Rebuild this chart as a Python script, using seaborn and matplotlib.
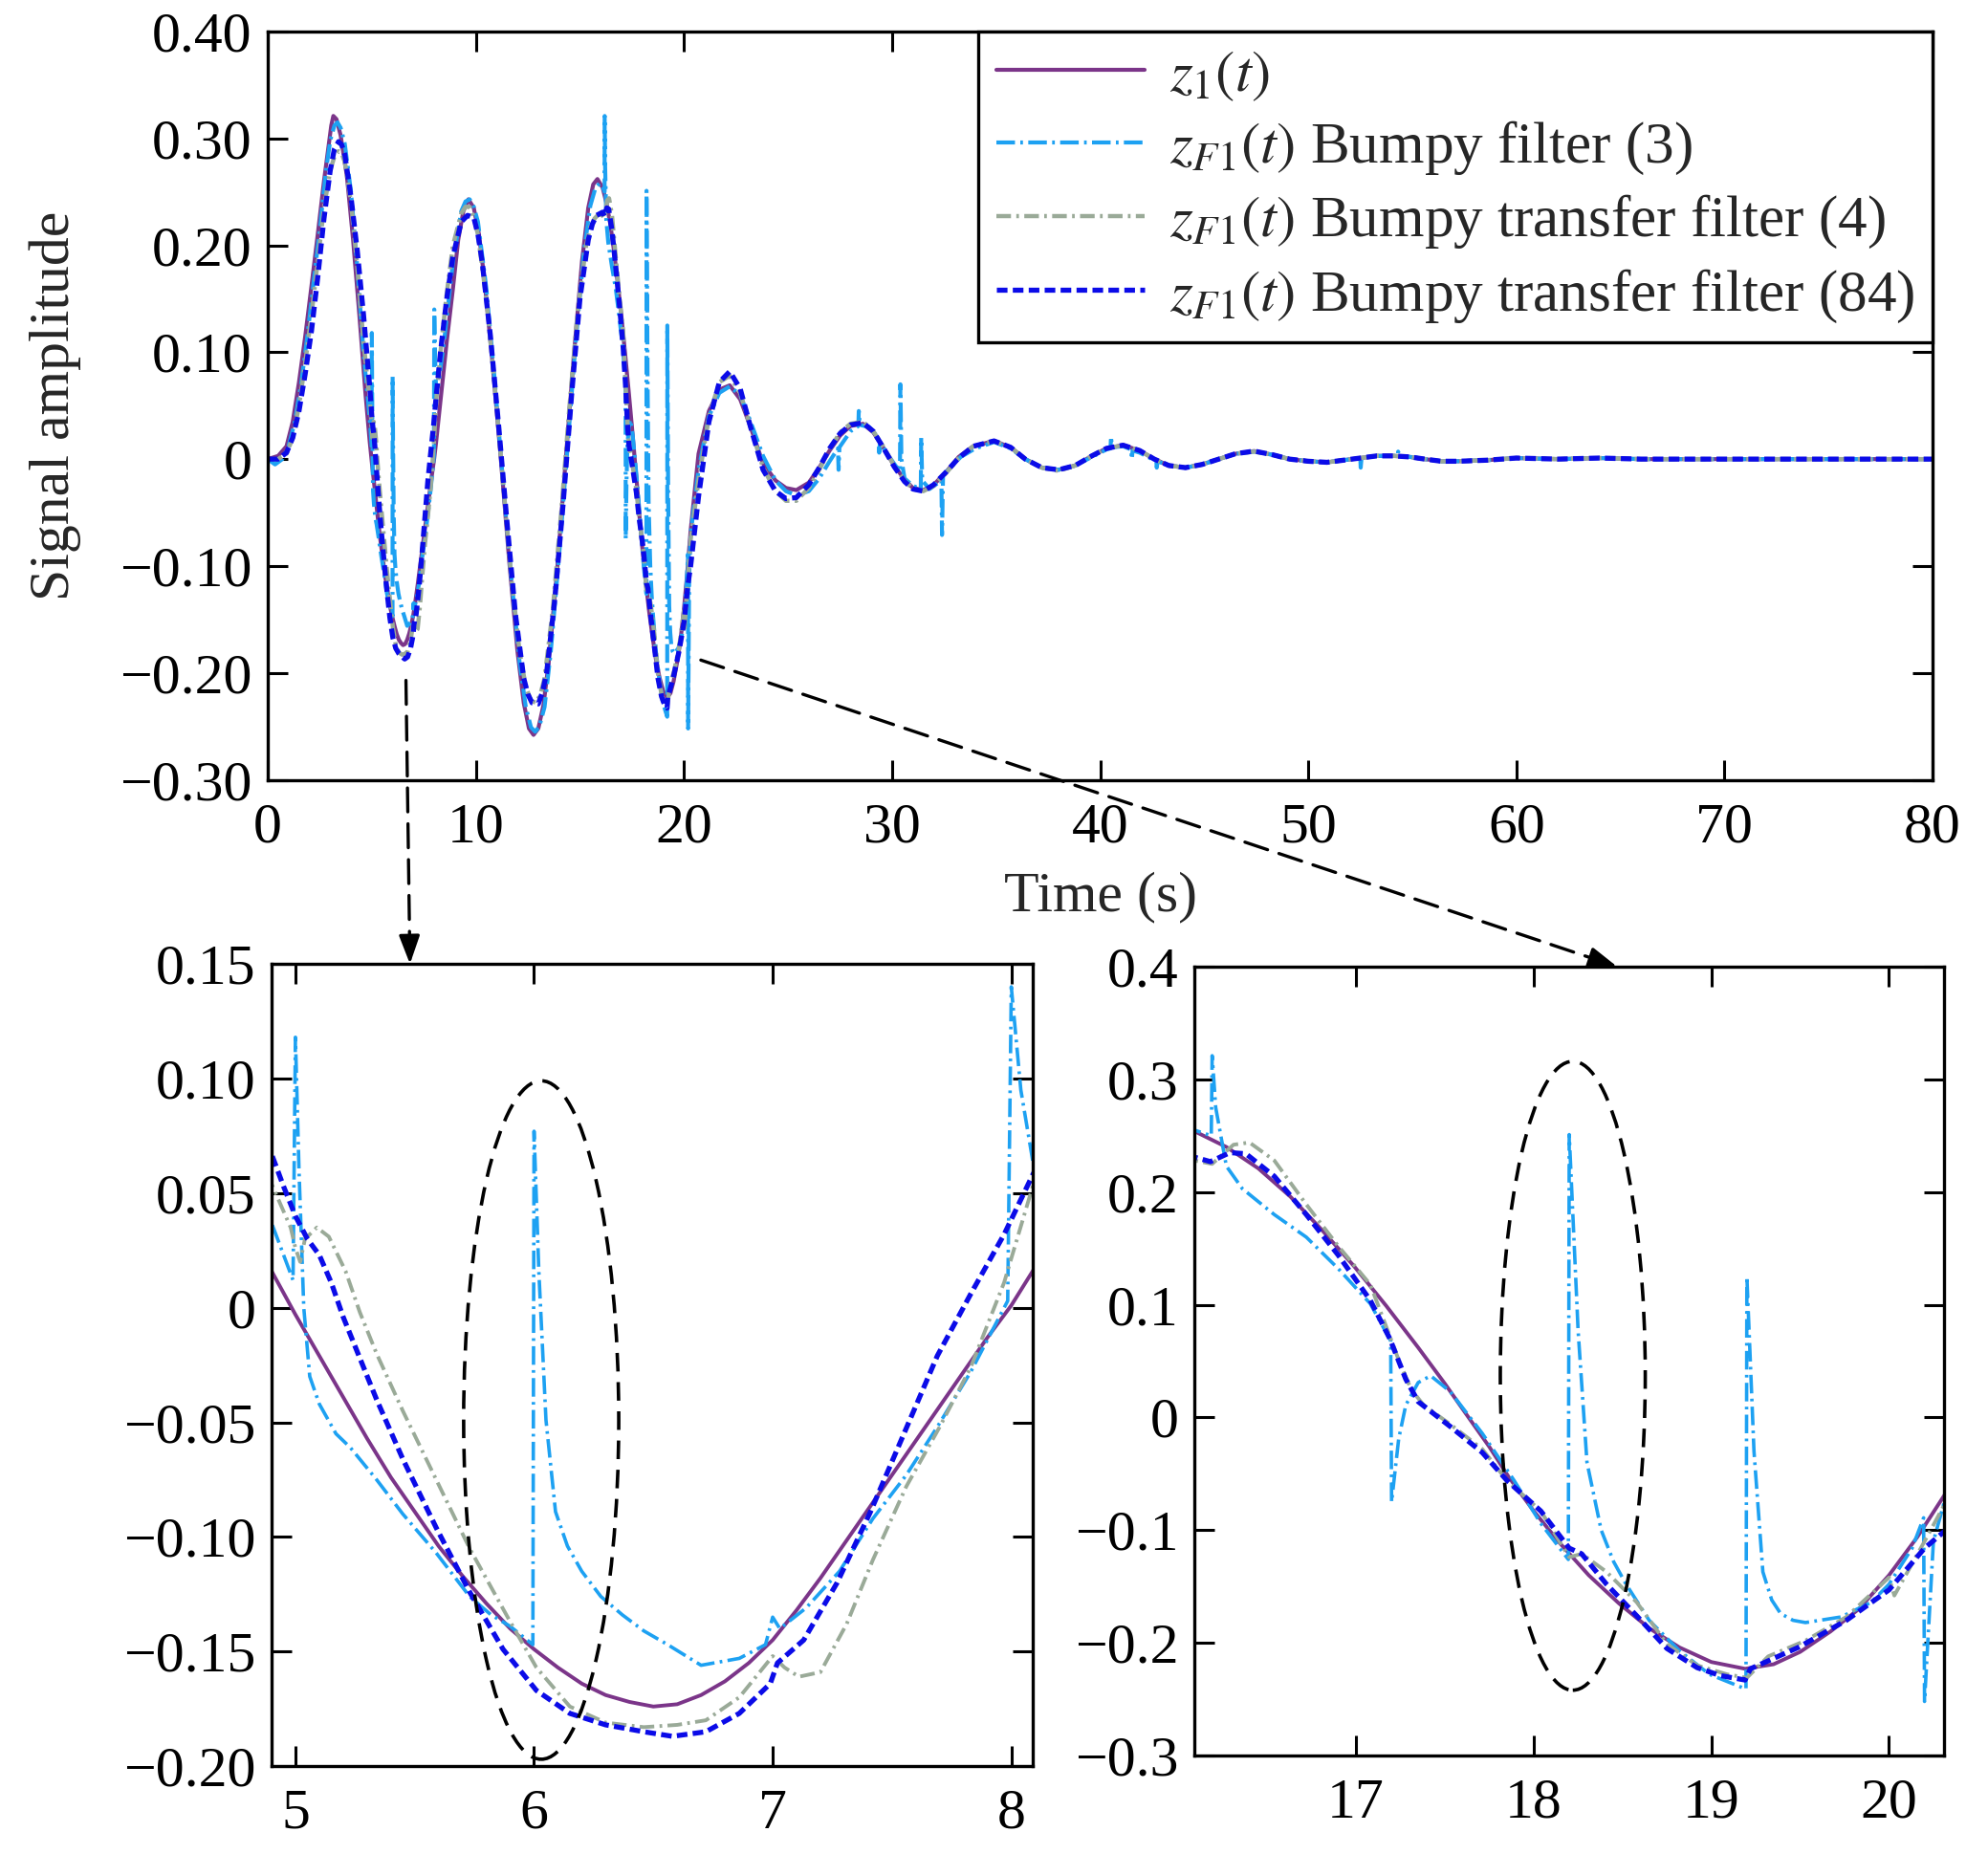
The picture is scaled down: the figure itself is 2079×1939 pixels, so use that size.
import matplotlib
matplotlib.use("Agg")
import matplotlib.pyplot as plt
import seaborn as sns
from matplotlib.patches import Ellipse, ConnectionPatch

# signal samples: (time s, amplitude)
z1_pts = [(0, 0), (0.5, 0.003), (0.9, 0.012), (1.2, 0.035), (1.5, 0.072), (1.8, 0.115), (2.1, 0.162),
          (2.4, 0.21), (2.7, 0.26), (2.9, 0.29), (3.05, 0.312), (3.15, 0.321), (3.3, 0.318), (3.5, 0.303),
          (3.8, 0.265), (4.1, 0.205), (4.4, 0.135), (4.7, 0.06), (4.9, 0.016), (5.0, -0.003),
          (5.1, -0.021), (5.2, -0.039), (5.3, -0.057), (5.4, -0.074), (5.5, -0.089), (5.6, -0.104),
          (5.7, -0.117), (5.8, -0.129), (5.9, -0.14), (6.0, -0.149), (6.1, -0.157), (6.2, -0.164),
          (6.3, -0.169), (6.4, -0.172), (6.5, -0.174), (6.6, -0.173), (6.7, -0.169), (6.8, -0.163),
          (6.9, -0.155), (7.0, -0.145), (7.1, -0.132), (7.2, -0.118), (7.3, -0.103), (7.4, -0.088),
          (7.5, -0.073), (7.6, -0.058), (7.7, -0.043), (7.8, -0.028), (7.9, -0.013), (8.0, 0.001),
          (8.09, 0.016), (8.3, 0.055), (8.6, 0.11), (8.9, 0.16), (9.15, 0.205), (9.4, 0.232),
          (9.64, 0.243), (9.9, 0.235), (10.15, 0.21), (10.4, 0.17), (10.8, 0.09), (11.2, 0.0),
          (11.6, -0.095), (12.0, -0.18), (12.3, -0.228), (12.55, -0.252), (12.77, -0.258), (13.0, -0.252),
          (13.25, -0.23), (13.5, -0.19), (13.9, -0.105), (14.3, -0.005), (14.7, 0.095), (15.1, 0.185),
          (15.4, 0.235), (15.64, 0.257), (15.84, 0.262), (16.09, 0.254), (16.27, 0.24), (16.45, 0.221),
          (16.63, 0.196), (16.81, 0.166), (16.99, 0.134), (17.17, 0.099), (17.35, 0.062), (17.5, 0.03),
          (17.62, 0.003), (17.75, -0.026), (17.86, -0.053), (18.0, -0.083), (18.15, -0.112),
          (18.31, -0.14), (18.48, -0.165), (18.65, -0.187), (18.82, -0.204), (19.0, -0.217),
          (19.19, -0.223), (19.35, -0.219), (19.5, -0.208), (19.67, -0.19), (19.83, -0.17), (20.0, -0.14),
          (20.16, -0.106), (20.32, -0.067), (20.7, 0.005), (21.2, 0.045), (21.7, 0.065), (22.2, 0.069),
          (22.7, 0.056), (23.2, 0.03), (23.8, -0.004), (24.4, -0.02), (24.9, -0.027), (25.4, -0.029),
          (26.0, -0.022), (26.5, -0.008), (27.0, 0.008), (27.5, 0.022), (28.0, 0.031), (28.6, 0.033),
          (29.1, 0.025), (29.6, 0.01), (30.1, -0.006), (30.6, -0.019), (31.0, -0.027), (31.5, -0.029),
          (32.0, -0.024), (32.6, -0.012), (33.2, 0.002), (33.9, 0.012), (34.9, 0.017), (35.7, 0.011),
          (36.4, 0.0), (37.2, -0.008), (38.0, -0.01), (38.8, -0.006), (39.6, 0.003), (40.3, 0.01),
          (41.1, 0.013), (41.9, 0.008), (42.6, 0.0), (43.3, -0.006), (44.1, -0.008), (44.9, -0.005),
          (45.7, 0.0), (46.5, 0.005), (47.4, 0.0075), (48.3, 0.004), (49.1, 0.0), (50.0, -0.002),
          (50.9, -0.003), (51.7, -0.001), (52.5, 0.001), (53.3, 0.003), (54.1, 0.003), (54.9, 0.002),
          (55.6, 0.0), (56.4, -0.002), (57.2, -0.002), (58.6, -0.001), (60.0, 0.001), (62.0, 0.0),
          (64.0, 0.001), (66.0, 0.0), (70.0, 0.0), (75.0, 0.0), (80.0, 0.0)]

f3_pts = [(0, 0), (0.35, -0.005), (0.7, 0.0), (1.0, 0.012), (1.3, 0.035), (1.6, 0.07), (1.9, 0.115),
          (2.2, 0.165), (2.5, 0.215), (2.8, 0.27), (3.0, 0.298), (3.2, 0.312), (3.35, 0.315), (3.5, 0.31),
          (3.7, 0.295), (4.0, 0.25), (4.3, 0.18), (4.6, 0.1), (4.9, 0.037), (4.99, 0.012), (5.0, 0.118),
          (5.015, 0.06), (5.035, 0.0), (5.06, -0.03), (5.1, -0.042), (5.17, -0.055), (5.23, -0.061),
          (5.34, -0.075), (5.45, -0.09), (5.59, -0.107), (5.73, -0.126), (5.82, -0.134), (5.9, -0.139),
          (5.995, -0.147), (6.0, 0.077), (6.02, 0.016), (6.05, -0.049), (6.09, -0.089), (6.14, -0.104),
          (6.2, -0.115), (6.28, -0.126), (6.37, -0.134), (6.46, -0.141), (6.56, -0.147), (6.7, -0.156),
          (6.86, -0.153), (6.97, -0.147), (7.0, -0.135), (7.03, -0.14), (7.14, -0.131), (7.28, -0.115),
          (7.42, -0.092), (7.56, -0.073), (7.69, -0.052), (7.83, -0.028), (7.985, 0.003), (8.0, 0.14),
          (8.04, 0.095), (8.09, 0.064), (8.2, 0.07), (8.5, 0.115), (8.9, 0.185), (9.3, 0.232),
          (9.5, 0.241), (9.7, 0.243), (9.9, 0.236), (10.1, 0.222), (10.5, 0.16), (10.9, 0.075),
          (11.3, -0.02), (11.7, -0.11), (12.1, -0.19), (12.4, -0.232), (12.65, -0.251), (12.85, -0.255),
          (13.05, -0.25), (13.3, -0.232), (13.6, -0.18), (14.0, -0.09), (14.4, 0.01), (14.8, 0.11),
          (15.2, 0.195), (15.5, 0.237), (15.75, 0.254), (15.95, 0.258), (16.09, 0.255), (16.185, 0.25),
          (16.19, 0.321), (16.21, 0.275), (16.27, 0.223), (16.36, 0.203), (16.54, 0.18), (16.72, 0.16),
          (16.9, 0.132), (17.08, 0.101), (17.195, 0.068), (17.2, -0.075), (17.24, -0.019), (17.28, 0.011),
          (17.35, 0.031), (17.42, 0.037), (17.53, 0.023), (17.71, -0.014), (17.89, -0.056),
          (18.04, -0.094), (18.195, -0.126), (18.2, 0.251), (18.25, 0.077), (18.3, -0.04), (18.38, -0.1),
          (18.45, -0.128), (18.52, -0.148), (18.65, -0.18), (18.82, -0.207), (18.99, -0.228),
          (19.195, -0.241), (19.2, 0.125), (19.24, -0.03), (19.29, -0.137), (19.34, -0.162),
          (19.39, -0.174), (19.46, -0.18), (19.53, -0.182), (19.73, -0.177), (19.9, -0.164),
          (20.0, -0.148), (20.13, -0.116), (20.195, -0.089), (20.2, -0.252), (20.25, -0.11),
          (20.32, -0.07), (20.7, -0.01), (21.2, 0.04), (21.7, 0.062), (22.2, 0.068), (22.7, 0.06),
          (23.2, 0.035), (23.8, 0.003), (24.4, -0.02), (24.9, -0.03), (25.4, -0.034), (26.0, -0.03),
          (26.5, -0.018), (27.0, -0.002), (27.4, 0.01), (27.43, -0.01), (27.47, 0.011), (28.0, 0.026),
          (28.38, 0.031), (28.4, 0.045), (28.45, 0.032), (28.9, 0.03), (29.35, 0.02), (29.38, 0.006),
          (29.42, 0.016), (29.8, 0.004), (30.38, -0.012), (30.4, 0.07), (30.45, 0.0), (30.6, -0.018),
          (31.0, -0.025), (31.38, -0.028), (31.4, 0.02), (31.45, -0.02), (31.8, -0.028), (32.37, -0.02),
          (32.4, -0.071), (32.45, -0.015), (32.8, -0.008), (33.3, 0.002), (34.0, 0.01), (34.9, 0.016),
          (35.7, 0.01), (36.4, 0.0), (37.2, -0.008), (38.0, -0.01), (38.8, -0.006), (39.6, 0.002),
          (40.3, 0.009), (40.5, 0.01), (40.52, 0.021), (40.57, 0.011), (41.1, 0.012), (41.5, 0.009),
          (41.52, 0.0), (41.56, 0.008), (41.9, 0.006), (42.6, -0.001), (42.7, -0.002), (42.72, -0.008),
          (42.76, -0.002), (43.3, -0.006), (44.1, -0.008), (44.9, -0.005), (45.7, 0.0), (46.5, 0.005),
          (47.4, 0.007), (48.3, 0.004), (49.1, 0.0), (50.0, -0.002), (50.9, -0.003), (51.7, -0.001),
          (52.5, 0.001), (52.52, -0.008), (52.56, 0.001), (53.3, 0.003), (54.3, 0.003), (54.32, 0.007),
          (54.36, 0.003), (54.9, 0.002), (55.6, 0.0), (56.4, -0.002), (57.2, -0.002), (58.6, -0.001),
          (60.0, 0.001), (62.0, 0.0), (64.0, 0.001), (66.0, 0.0), (70.0, 0.0), (75.0, 0.0), (80.0, 0.0)]

f4_pts = [(0, 0), (0.5, 0.0), (0.9, 0.005), (1.2, 0.02), (1.5, 0.05), (1.8, 0.09), (2.1, 0.135),
          (2.4, 0.185), (2.7, 0.235), (3.0, 0.27), (3.2, 0.283), (3.4, 0.288), (3.55, 0.286), (3.7, 0.278),
          (4.0, 0.24), (4.3, 0.18), (4.6, 0.11), (4.9, 0.054), (4.98, 0.035), (5.0, 0.026), (5.02, 0.02),
          (5.04, 0.03), (5.09, 0.035), (5.14, 0.031), (5.21, 0.016), (5.27, -0.002), (5.34, -0.02),
          (5.45, -0.045), (5.59, -0.075), (5.73, -0.105), (5.9, -0.137), (6.01, -0.157), (6.15, -0.174),
          (6.3, -0.181), (6.46, -0.183), (6.6, -0.182), (6.72, -0.18), (6.86, -0.17), (7.0, -0.152),
          (7.05, -0.157), (7.11, -0.161), (7.2, -0.159), (7.31, -0.138), (7.42, -0.11), (7.56, -0.078),
          (7.7, -0.052), (7.83, -0.026), (7.97, 0.011), (8.09, 0.053), (8.3, 0.1), (8.6, 0.155),
          (8.9, 0.2), (9.3, 0.23), (9.5, 0.236), (9.7, 0.236), (9.9, 0.226), (10.1, 0.21), (10.5, 0.15),
          (10.9, 0.07), (11.3, -0.02), (11.7, -0.11), (12.1, -0.18), (12.4, -0.213), (12.65, -0.226),
          (12.9, -0.228), (13.1, -0.22), (13.3, -0.205), (13.7, -0.14), (14.1, -0.05), (14.5, 0.05),
          (14.9, 0.14), (15.3, 0.2), (15.5, 0.217), (15.7, 0.225), (15.9, 0.229), (16.09, 0.228),
          (16.19, 0.225), (16.31, 0.242), (16.4, 0.244), (16.54, 0.228), (16.72, 0.189), (16.9, 0.152),
          (17.08, 0.118), (17.2, 0.068), (17.24, 0.051), (17.31, 0.025), (17.38, 0.011), (17.53, -0.006),
          (17.71, -0.028), (17.85, -0.056), (18.04, -0.083), (18.2, -0.124), (18.27, -0.121),
          (18.41, -0.137), (18.58, -0.164), (18.75, -0.201), (18.92, -0.22), (19.09, -0.228),
          (19.2, -0.231), (19.32, -0.212), (19.53, -0.198), (19.76, -0.177), (20.0, -0.142),
          (20.03, -0.158), (20.2, -0.11), (20.32, -0.075), (20.7, -0.02), (21.2, 0.04), (21.7, 0.072),
          (22.2, 0.078), (22.7, 0.062), (23.2, 0.03), (23.8, -0.008), (24.4, -0.03), (24.9, -0.039),
          (25.4, -0.039), (26.0, -0.027), (26.5, -0.01), (27.0, 0.009), (27.5, 0.025), (28.0, 0.033),
          (28.6, 0.035), (29.1, 0.026), (29.6, 0.011), (30.1, -0.006), (30.6, -0.02), (31.0, -0.028),
          (31.5, -0.03), (32.0, -0.025), (32.6, -0.013), (33.2, 0.001), (33.9, 0.012), (34.9, 0.017),
          (35.7, 0.011), (36.4, 0.0), (37.2, -0.008), (38.0, -0.011), (38.8, -0.006), (39.6, 0.003),
          (40.3, 0.01), (41.1, 0.013), (41.9, 0.008), (42.6, 0.0), (43.3, -0.006), (44.1, -0.008),
          (44.9, -0.005), (45.7, 0.0), (46.5, 0.005), (47.4, 0.007), (48.3, 0.004), (49.1, 0.0),
          (50.0, -0.002), (50.9, -0.003), (51.7, -0.001), (52.5, 0.001), (53.3, 0.003), (54.1, 0.003),
          (54.9, 0.002), (55.6, 0.0), (56.4, -0.002), (57.2, -0.002), (58.6, -0.001), (60.0, 0.001),
          (62.0, 0.0), (64.0, 0.001), (66.0, 0.0), (70.0, 0.0), (75.0, 0.0), (80.0, 0.0)]

f84_pts = [(0, 0), (0.5, 0.0), (0.9, 0.006), (1.2, 0.02), (1.5, 0.045), (1.8, 0.08), (2.1, 0.12),
           (2.4, 0.17), (2.7, 0.225), (3.0, 0.27), (3.2, 0.29), (3.4, 0.297), (3.55, 0.294), (3.7, 0.285),
           (4.0, 0.245), (4.3, 0.195), (4.6, 0.135), (4.9, 0.067), (4.95, 0.053), (5.0, 0.04),
           (5.05, 0.03), (5.1, 0.023), (5.15, 0.011), (5.2, -0.004), (5.27, -0.022), (5.34, -0.04),
           (5.45, -0.066), (5.59, -0.096), (5.73, -0.124), (5.87, -0.149), (6.01, -0.167), (6.15, -0.177),
           (6.3, -0.182), (6.46, -0.185), (6.58, -0.187), (6.72, -0.185), (6.86, -0.177), (6.99, -0.164),
           (7.02, -0.155), (7.13, -0.145), (7.27, -0.12), (7.41, -0.089), (7.55, -0.055), (7.69, -0.021),
           (7.83, 0.006), (7.97, 0.032), (8.09, 0.058), (8.3, 0.1), (8.6, 0.15), (8.9, 0.19),
           (9.3, 0.222), (9.6, 0.228), (9.9, 0.226), (10.1, 0.21), (10.3, 0.185), (10.7, 0.115),
           (11.1, 0.03), (11.5, -0.06), (11.9, -0.145), (12.3, -0.205), (12.5, -0.22), (12.7, -0.228),
           (13.0, -0.229), (13.2, -0.218), (13.4, -0.2), (13.8, -0.13), (14.2, -0.04), (14.6, 0.06),
           (15.0, 0.15), (15.4, 0.205), (15.6, 0.22), (15.8, 0.228), (16.09, 0.231), (16.18, 0.227),
           (16.29, 0.235), (16.38, 0.234), (16.54, 0.214), (16.72, 0.18), (16.9, 0.144), (17.08, 0.104),
           (17.19, 0.07), (17.28, 0.034), (17.35, 0.014), (17.53, -0.008), (17.71, -0.031),
           (17.85, -0.056), (18.04, -0.083), (18.2, -0.116), (18.27, -0.121), (18.41, -0.148),
           (18.58, -0.176), (18.75, -0.205), (18.92, -0.222), (19.05, -0.229), (19.19, -0.233),
           (19.22, -0.223), (19.49, -0.204), (19.76, -0.18), (20.0, -0.153), (20.2, -0.116),
           (20.32, -0.1), (20.7, -0.035), (21.2, 0.035), (21.7, 0.072), (22.2, 0.082), (22.7, 0.066),
           (23.2, 0.03), (23.8, -0.01), (24.4, -0.03), (24.9, -0.037), (25.4, -0.036), (26.0, -0.024),
           (26.5, -0.008), (27.0, 0.01), (27.5, 0.024), (28.0, 0.032), (28.6, 0.034), (29.1, 0.026),
           (29.6, 0.01), (30.1, -0.007), (30.6, -0.021), (31.0, -0.028), (31.5, -0.03), (32.0, -0.024),
           (32.6, -0.012), (33.2, 0.001), (33.9, 0.012), (34.9, 0.017), (35.7, 0.011), (36.4, 0.0),
           (37.2, -0.008), (38.0, -0.01), (38.8, -0.006), (39.6, 0.003), (40.3, 0.01), (41.1, 0.013),
           (41.9, 0.008), (42.6, 0.0), (43.3, -0.006), (44.1, -0.008), (44.9, -0.005), (45.7, 0.0),
           (46.5, 0.005), (47.4, 0.0075), (48.3, 0.004), (49.1, 0.0), (50.0, -0.002), (50.9, -0.003),
           (51.7, -0.001), (52.5, 0.001), (53.3, 0.003), (54.1, 0.003), (54.9, 0.002), (55.6, 0.0),
           (56.4, -0.002), (57.2, -0.002), (58.6, -0.001), (60.0, 0.001), (62.0, 0.0), (64.0, 0.001),
           (66.0, 0.0), (70.0, 0.0), (75.0, 0.0), (80.0, 0.0)]

series_labels = [r"$z_1(t)$",
                 r"$z_{F1}(t)$ Bumpy filter (3)",
                 r"$z_{F1}(t)$ Bumpy transfer filter (4)",
                 r"$z_{F1}(t)$ Bumpy transfer filter (84)"]

top_xticks = [0, 10, 20, 30, 40, 50, 60, 70, 80]
top_yticks = [-0.30, -0.20, -0.10, 0, 0.10, 0.20, 0.30, 0.40]
top_ylabels = ["\u22120.30", "\u22120.20", "\u22120.10", "0", "0.10", "0.20", "0.30", "0.40"]

bl_xticks = [5, 6, 7, 8]
bl_yticks = [-0.20, -0.15, -0.10, -0.05, 0, 0.05, 0.10, 0.15]
bl_ylabels = ["\u22120.20", "\u22120.15", "\u22120.10", "\u22120.05", "0", "0.05", "0.10", "0.15"]

br_xticks = [17, 18, 19, 20]
br_yticks = [-0.3, -0.2, -0.1, 0, 0.1, 0.2, 0.3, 0.4]
br_ylabels = ["\u22120.3", "\u22120.2", "\u22120.1", "0", "0.1", "0.2", "0.3", "0.4"]

sns.set_theme(style="ticks")
plt.rcParams["font.family"] = ["Liberation Serif", "DejaVu Serif"]
plt.rcParams["mathtext.fontset"] = "stix"
plt.rcParams["lines.scale_dashes"] = False

colors = ["#7b3589", "#1da1f2", "#9aaa98", "#0b0be8"]
styles = ["-", (0, (14, 4, 2, 4)), (0, (11, 4, 2, 4)), (0, (8, 4))]
FS = 43

fig = plt.figure(figsize=(20.79, 19.39), dpi=100)
ax_top = fig.add_axes([0.1347, 0.5794, 0.8374, 0.4036])
ax_bl = fig.add_axes([0.1366, 0.0474, 0.3829, 0.4327])
ax_br = fig.add_axes([0.6008, 0.0531, 0.3771, 0.4255])


def draw(ax, widths):
    for pts, c, ls, lw in zip([z1_pts, f3_pts, f4_pts, f84_pts], colors, styles, widths):
        t, v = zip(*pts)
        sns.lineplot(x=list(t), y=list(v), ax=ax, color=c, linestyle=ls, lw=lw,
                     sort=False, estimator=None, legend=False)


def style_axes(ax):
    ax.tick_params(direction="in", top=True, right=True, length=15, width=2.2,
                   labelsize=FS, colors="black")
    ax.tick_params(axis="x", pad=17)
    ax.tick_params(axis="y", pad=12)
    for sp in ax.spines.values():
        sp.set_visible(True)
        sp.set_linewidth(2.4)
        sp.set_color("black")
    ax.set_xlabel("")
    ax.set_ylabel("")


draw(ax_top, [3.0, 3.0, 3.2, 3.8])
ax_top.set_xlim(0, 80)
ax_top.set_ylim(-0.30, 0.40)
ax_top.set_xticks(top_xticks, [str(v) for v in top_xticks])
ax_top.set_yticks(top_yticks, top_ylabels)
style_axes(ax_top)
ax_top.set_xlabel("Time (s)", fontsize=FS)
ax_top.set_ylabel("Signal amplitude", fontsize=FS)
ax_top.xaxis.set_label_coords(0.5, -0.122)
ax_top.yaxis.set_label_coords(-0.112, 0.5)

leg = ax_top.legend(ax_top.get_lines()[:4], series_labels, loc="upper right",
                    bbox_to_anchor=(1, 1), borderaxespad=0, fontsize=44, fancybox=False,
                    framealpha=1, edgecolor="black", handlelength=2.55, handletextpad=0.42,
                    labelspacing=0.28, borderpad=0.3)
leg.get_frame().set_linewidth(2.4)

draw(ax_bl, [2.8, 2.6, 2.8, 3.8])
ax_bl.set_xlim(4.9, 8.09)
ax_bl.set_ylim(-0.20, 0.15)
ax_bl.set_xticks(bl_xticks, [str(v) for v in bl_xticks])
ax_bl.set_yticks(bl_yticks, bl_ylabels)
style_axes(ax_bl)

draw(ax_br, [2.8, 2.6, 2.8, 3.8])
ax_br.set_xlim(16.09, 20.31)
ax_br.set_ylim(-0.3, 0.4)
ax_br.set_xticks(br_xticks, [str(v) for v in br_xticks])
ax_br.set_yticks(br_yticks, br_ylabels)
style_axes(ax_br)

# dashed ellipses marking the spikes
ax_bl.add_patch(Ellipse((6.03, -0.049), 0.65, 0.296, fill=False, ec="black", lw=2.6,
                        ls=(0, (14, 8)), zorder=5))
ax_br.add_patch(Ellipse((18.22, 0.037), 0.816, 0.558, fill=False, ec="black", lw=2.6,
                        ls=(0, (14, 8)), zorder=5))

# zoom connectors
for xa, xb, axb, off in [((6.64, -0.207), (5.48, 0.15), ax_bl, (-0.4, 20)),
                         ((20.81, -0.188), (18.47, 0.40), ax_br, (-19, 6.3))]:
    con = ConnectionPatch(xyA=xa, coordsA=ax_top.transData, xyB=xb, coordsB=axb.transData,
                          color="black", lw=2.4, ls=(0, (18, 9)), zorder=10)
    fig.add_artist(con)
    axb.annotate("", xy=xb, xytext=off, textcoords="offset points", annotation_clip=False,
                 arrowprops=dict(arrowstyle="-|>,head_length=0.6,head_width=0.22",
                                 mutation_scale=30, color="black", lw=2.4, shrinkA=0, shrinkB=0))

fig.savefig("out.png", dpi=100)
